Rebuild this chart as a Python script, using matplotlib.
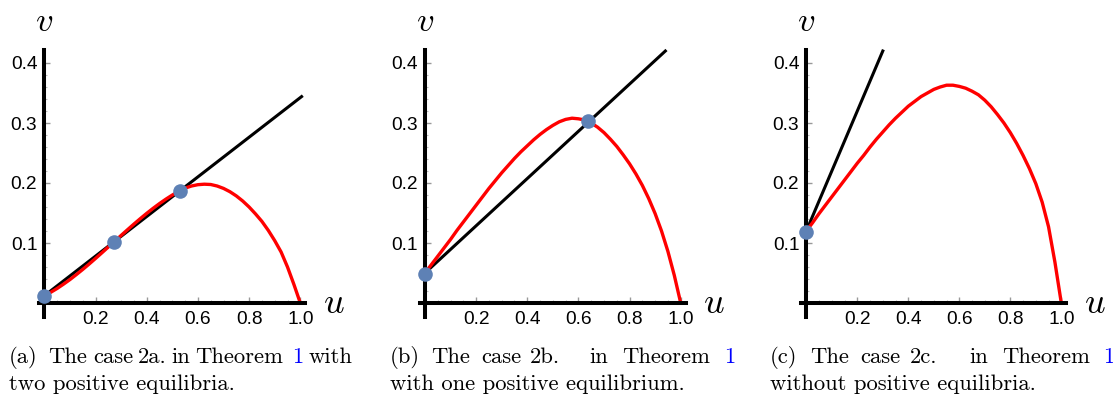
import matplotlib.pyplot as plt
from matplotlib.ticker import FixedLocator

plt.rcParams['mathtext.fontset'] = 'cm'

# values (u step 0.025)
u_red = [0, 0.025, 0.05, 0.075, 0.1, 0.125, 0.15, 0.175, 0.2, 0.225, 0.25, 0.275,
         0.3, 0.325, 0.35, 0.375, 0.4, 0.425, 0.45, 0.475, 0.5, 0.525, 0.55, 0.575,
         0.6, 0.625, 0.65, 0.675, 0.7, 0.725, 0.75, 0.775, 0.8, 0.825, 0.85, 0.875,
         0.9, 0.925, 0.95, 0.975, 1.0]
red_a = [0.012, 0.0178, 0.0242, 0.0314, 0.039, 0.0473, 0.0559, 0.0649, 0.0742, 0.0837,
         0.0933, 0.1028, 0.1126, 0.1221, 0.1315, 0.1406, 0.1494, 0.1578, 0.1657, 0.1731,
         0.1799, 0.186, 0.1915, 0.195, 0.1972, 0.198, 0.1975, 0.195, 0.191, 0.1855,
         0.1785, 0.170, 0.160, 0.1485, 0.136, 0.121, 0.104, 0.085, 0.060, 0.031, 0.0]
red_b = [0.050, 0.064, 0.078, 0.092, 0.106, 0.121, 0.135, 0.149, 0.163, 0.177, 0.191,
         0.204, 0.217, 0.229, 0.241, 0.252, 0.262, 0.272, 0.281, 0.289, 0.296, 0.302,
         0.306, 0.308, 0.307, 0.305, 0.300, 0.293, 0.284, 0.273, 0.261, 0.247, 0.232,
         0.215, 0.196, 0.174, 0.149, 0.120, 0.086, 0.046, 0.0]
red_c = [0.120, 0.134, 0.149, 0.163, 0.177, 0.191, 0.205, 0.219, 0.233, 0.246, 0.260,
         0.273, 0.285, 0.297, 0.308, 0.318, 0.328, 0.336, 0.344, 0.350, 0.356, 0.360,
         0.363, 0.363, 0.361, 0.358, 0.353, 0.347, 0.338, 0.327, 0.314, 0.300, 0.284,
         0.266, 0.246, 0.224, 0.199, 0.168, 0.127, 0.068, 0.0]

line_a_u = [0, 1.005]
line_a_v = [0.012, 0.344]
line_b_u = [0, 0.94]
line_b_v = [0.05, 0.42]
line_c_u = [0, 0.30]
line_c_v = [0.12, 0.42]

dots_a_u = [0, 0.273, 0.53]
dots_a_v = [0.011, 0.101, 0.187]
dots_b_u = [0, 0.639]
dots_b_v = [0.049, 0.303]
dots_c_u = [0]
dots_c_v = [0.119]

xticks = [0.2, 0.4, 0.6, 0.8, 1.0]
xticklabels = ['0.2', '0.4', '0.6', '0.8', '1.0']
yticks = [0.1, 0.2, 0.3, 0.4]
yticklabels = ['0.1', '0.2', '0.3', '0.4']

captions = [
    ([('(a)', 9), ('The', 48), ('case', 93), ('2a.', 138), ('in', 171), ('Theorem', 195), ('with', 309)],
     ('1', 292), 'two positive equilibria.', 9),
    ([('(b)', 390), ('The', 431), ('case', 481), ('2b.', 530), ('in', 589), ('Theorem', 622)],
     ('1', 724), 'with one positive equilibrium.', 390),
    ([('(c)', 770), ('The', 810), ('case', 860), ('2c.', 910), ('in', 969), ('Theorem', 1002)],
     ('1', 1103), 'without positive equilibria.', 770),
]

W, H = 1113, 398
fig = plt.figure(figsize=(W / 100, H / 100), dpi=100)

panels = [
    (44.3, 256.0, red_a, line_a_u, line_a_v, dots_a_u, dots_a_v),
    (425.0, 255.7, red_b, line_b_u, line_b_v, dots_b_u, dots_b_v),
    (806.3, 255.0, red_c, line_c_u, line_c_v, dots_c_u, dots_c_v),
]
v0, sv = 303.0, 600.0
xlo, xhi, ylo, yhi = -0.03, 1.05, -0.03, 0.43

for x0, sx, red, lu, lv, du, dv in panels:
    left = x0 + xlo * sx
    right = x0 + xhi * sx
    bot = v0 - ylo * sv
    top = v0 - yhi * sv
    ax = fig.add_axes([left / W, (H - bot) / H, (right - left) / W, (bot - top) / H])
    ax.set_xlim(xlo, xhi)
    ax.set_ylim(ylo, yhi)
    ax.patch.set_visible(False)

    ax.plot(lu, lv, color='black', lw=2.2, zorder=3)
    ax.plot(u_red, red, color='#ff0000', lw=2.4, zorder=4)
    ax.plot(du, dv, 'o', color='#5e81b5', ms=10.5, mec='none', zorder=6, clip_on=False)

    for s in ['top', 'right']:
        ax.spines[s].set_visible(False)
    ax.spines['left'].set_position(('data', 0))
    ax.spines['bottom'].set_position(('data', 0))
    ax.spines['left'].set_bounds(-0.023, 0.422)
    ax.spines['bottom'].set_bounds(-0.02, 1.02)
    for s in ['left', 'bottom']:
        ax.spines[s].set_linewidth(2.9)
        ax.spines[s].set_zorder(5)

    ax.set_xticks(xticks)
    ax.set_xticklabels(xticklabels)
    ax.set_yticks(yticks)
    ax.set_yticklabels(yticklabels)
    ax.xaxis.set_minor_locator(FixedLocator([0.05 * i for i in range(1, 21)]))
    ax.yaxis.set_minor_locator(FixedLocator([0.02 * i for i in range(1, 21)]))
    ax.tick_params(which='major', direction='in', length=4, width=1, color='#999999',
                   labelsize=13.8, labelfontfamily='Liberation Sans')
    ax.tick_params(which='minor', direction='in', length=2, width=0.8, color='#bbbbbb')
    ax.tick_params(axis='x', which='major', pad=6)
    ax.tick_params(axis='y', which='major', pad=5)

    fig.text(x0 / W, 1 - 4 / H, r'$v$', fontsize=25, ha='center', va='top')
    ax.text((334 - 44.3) / 256, (v0 - 313) / sv, r'$u$', fontsize=26,
            ha='center', va='baseline', clip_on=False)

for words, one, line2, x2 in captions:
    for w, x in words:
        fig.text(x / W, 1 - 363 / H, w, family='cmr10', fontsize=16.3, va='baseline')
    fig.text(one[1] / W, 1 - 363 / H, one[0], family='cmr10', fontsize=16.3, va='baseline',
             color='#0000ff')
    fig.text(x2 / W, 1 - 390 / H, line2, family='cmr10', fontsize=16.3, va='baseline')

fig.savefig('out.png', dpi=100)
